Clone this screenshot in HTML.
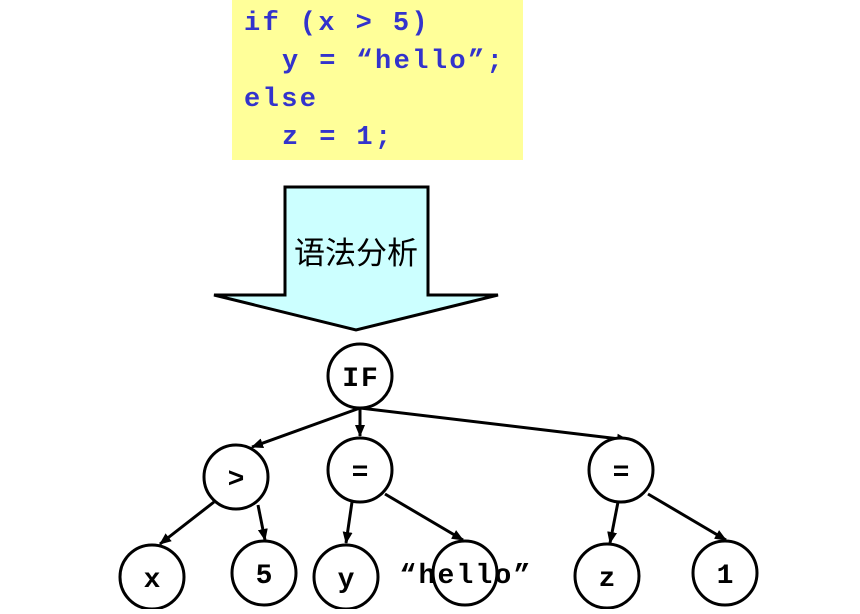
<!DOCTYPE html><html><head><style>body{margin:0;background:#fff}</style></head><body>
<svg width="860" height="609" xmlns="http://www.w3.org/2000/svg">
<defs><marker id="a" markerWidth="12" markerHeight="10" refX="11" refY="5" orient="auto" markerUnits="userSpaceOnUse"><path d="M0,0L12,5L0,10z" fill="#000"/></marker></defs>
<rect x="232" y="0" width="291" height="160" fill="#ffff99"/>
<g font-family="Liberation Mono,monospace" font-weight="bold" font-size="27" fill="#3333cc" letter-spacing="2.4">
<text x="244" y="30">if (x &gt; 5)</text>
<text x="282" y="68">y = “hello”;</text>
<text x="244" y="106">else</text>
<text x="282" y="144">z = 1;</text>
</g>
<path d="M285,187H428V295H498L356,330L214,295H285Z" fill="#ccffff" stroke="#000" stroke-width="3"/>
<text x="356" y="264" text-anchor="middle" font-family="Liberation Sans,Noto Sans CJK SC,sans-serif" font-size="31">语法分析</text>
<g stroke="#000" stroke-width="3" fill="none" marker-end="url(#a)">
<line x1="360" y1="408" x2="252" y2="447"/>
<line x1="360" y1="408" x2="360" y2="436"/>
<line x1="360" y1="408" x2="628" y2="440"/>
<line x1="214" y1="502" x2="160" y2="544"/>
<line x1="258" y1="505" x2="265" y2="540"/>
<line x1="352" y1="502" x2="346" y2="543"/>
<line x1="385" y1="494" x2="463" y2="540"/>
<line x1="618" y1="502" x2="610" y2="543"/>
<line x1="648" y1="494" x2="726" y2="540"/>
</g>
<g stroke="#000" stroke-width="3" fill="#fff">
<circle cx="360" cy="376" r="32"/><circle cx="236" cy="477" r="32"/><circle cx="360" cy="470" r="32"/><circle cx="621" cy="470" r="32"/>
<circle cx="152" cy="577" r="32"/><circle cx="264" cy="573" r="32"/><circle cx="346" cy="577" r="32"/><circle cx="465" cy="573" r="32" fill="none"/><circle cx="607" cy="576" r="32"/><circle cx="725" cy="573" r="32"/>
</g>
<g font-family="Liberation Mono,monospace" font-weight="bold" font-size="28" fill="#000" text-anchor="middle">
<text x="361" y="386" letter-spacing="2">IF</text><text x="236" y="487">&gt;</text><text x="360" y="480">=</text><text x="621" y="480">=</text>
<text x="152" y="587">x</text><text x="264" y="583">5</text><text x="346" y="587">y</text><text x="466" y="583" letter-spacing="2.2">“hello”</text><text x="607" y="586">z</text><text x="725" y="583">1</text>
</g>
</svg></body></html>
